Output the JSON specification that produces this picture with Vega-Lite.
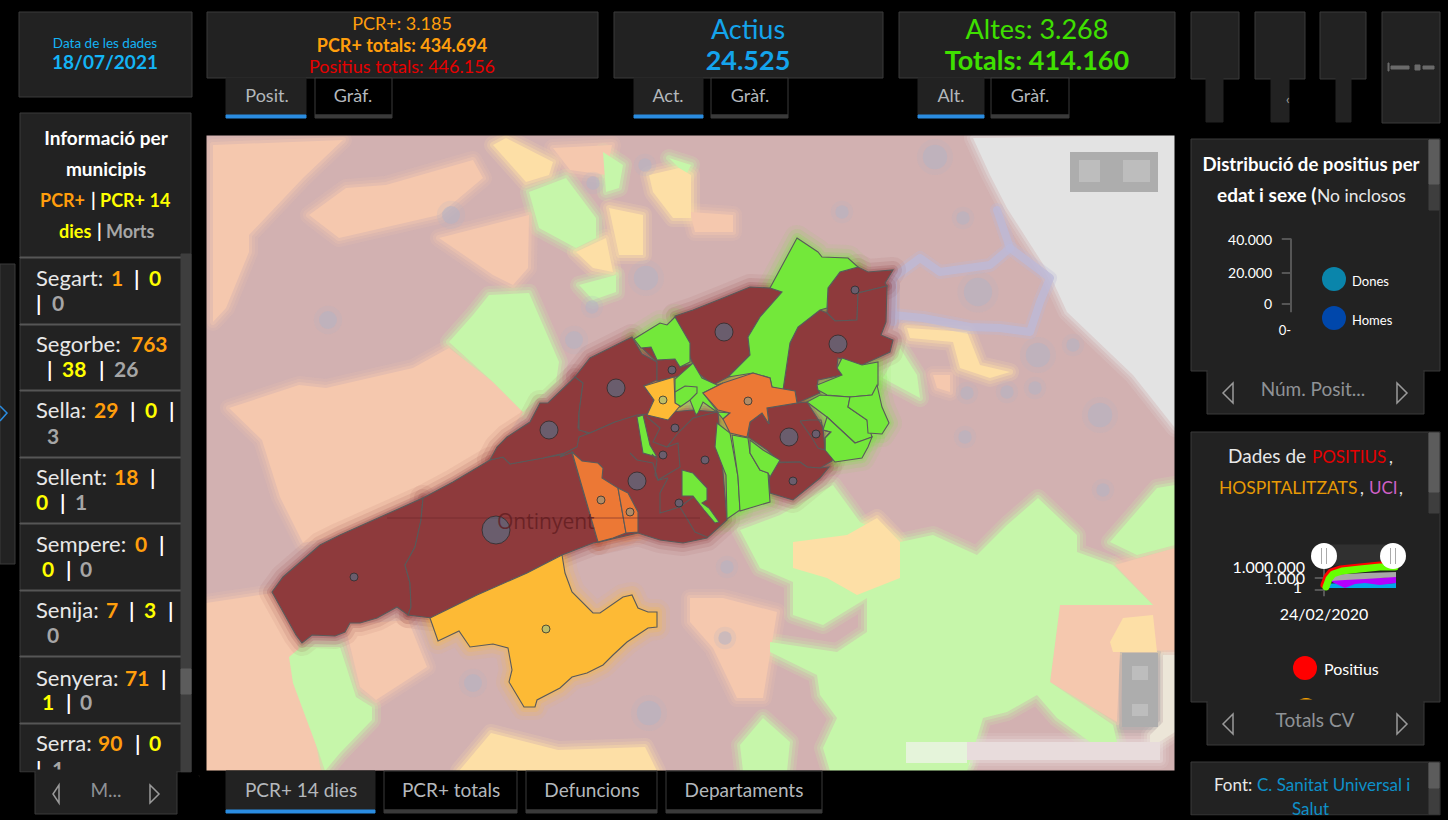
{"$schema":"https://vega.github.io/schema/vega-lite/v6.json","width":1448,"height":820,"autosize":"none","padding":0,"background":"#000000","config":{"view":{"stroke":null}},
"datasets":{
"base":[{"c":"mapa","geo":{"type":"Polygon","coordinates":[[[206,135],[1175,135],[1175,771],[206,771],[206,135]]]}}],
"fons":[
{"c":"pessec","geo":{"type":"Polygon","coordinates":[[[213,145],[343,140],[303,178],[249,235],[249,252],[226,308],[213,322],[213,145]]]}},
{"c":"pessec","geo":{"type":"Polygon","coordinates":[[[309,215],[346,188],[386,185],[473,160],[483,178],[439,215],[339,238],[309,215]]]}},
{"c":"pessec","geo":{"type":"Polygon","coordinates":[[[439,238],[529,215],[528,268],[513,285],[493,275],[439,238]]]}},
{"c":"pessec","geo":{"type":"Polygon","coordinates":[[[229,408],[299,385],[326,388],[413,368],[449,348],[493,382],[523,412],[490,460],[340,535],[303,543],[280,497],[262,440],[229,408]]]}},
{"c":"pessec","geo":{"type":"Polygon","coordinates":[[[206,603],[273,593],[297,640],[321,771],[206,771],[206,603]]]}},
{"c":"pessec","geo":{"type":"Polygon","coordinates":[[[345,625],[408,620],[427,667],[376,700],[360,687],[345,625]]]}},
{"c":"pessec","geo":{"type":"Polygon","coordinates":[[[690,598],[723,598],[777,612],[763,698],[737,698],[713,648],[690,622],[690,598]]]}},
{"c":"pessec","geo":{"type":"Polygon","coordinates":[[[1060,605],[1153,605],[1115,565],[1175,548],[1175,650],[1120,652],[1117,722],[1050,682],[1060,605]]]}},
{"c":"pessec","geo":{"type":"Polygon","coordinates":[[[690,212],[733,215],[733,232],[695,232],[690,212]]]}},
{"c":"pessec","geo":{"type":"Polygon","coordinates":[[[933,375],[950,375],[950,392],[937,388],[933,375]]]}},
{"c":"pessec","geo":{"type":"Polygon","coordinates":[[[553,148],[612,145],[606,175],[570,170],[553,148]]]}},
{"c":"verd","geo":{"type":"Polygon","coordinates":[[[449,342],[473,315],[489,295],[529,293],[559,362],[556,382],[523,412],[493,382],[449,342]]]}},
{"c":"verd","geo":{"type":"Polygon","coordinates":[[[529,192],[566,178],[596,218],[596,238],[576,248],[539,228],[529,192]]]}},
{"c":"verd","geo":{"type":"Polygon","coordinates":[[[603,152],[623,165],[619,188],[606,192],[603,152]]]}},
{"c":"verd","geo":{"type":"Polygon","coordinates":[[[579,285],[616,275],[616,292],[593,300],[579,285]]]}},
{"c":"verd","geo":{"type":"Polygon","coordinates":[[[669,158],[691,165],[686,175],[669,158]]]}},
{"c":"verd","geo":{"type":"Polygon","coordinates":[[[900,348],[917,375],[920,398],[890,382],[883,378],[900,348]]]}},
{"c":"verd","geo":{"type":"Polygon","coordinates":[[[289,657],[301,647],[340,647],[356,697],[372,707],[372,720],[340,753],[325,771],[319,753],[293,683],[289,657]]]}},
{"c":"verd","geo":{"type":"Polygon","coordinates":[[[740,530],[780,515],[833,485],[860,522],[900,542],[933,535],[977,555],[1007,525],[1038,498],[1077,535],[1077,552],[1113,565],[1153,605],[1060,605],[1050,682],[1113,725],[1117,742],[1090,742],[1057,718],[1037,695],[1007,712],[983,718],[967,771],[830,771],[823,748],[837,718],[820,695],[817,675],[770,652],[770,642],[790,645],[837,652],[867,632],[867,598],[823,625],[793,615],[793,582],[760,568],[740,530]]]}},
{"c":"verd","geo":{"type":"Polygon","coordinates":[[[740,745],[763,718],[790,742],[787,771],[743,771],[740,745]]]}},
{"c":"verd","geo":{"type":"Polygon","coordinates":[[[1110,542],[1157,488],[1175,485],[1175,545],[1137,555],[1110,542]]]}},
{"c":"clar","geo":{"type":"Polygon","coordinates":[[[493,145],[506,138],[553,162],[549,175],[526,182],[493,145]]]}},
{"c":"clar","geo":{"type":"Polygon","coordinates":[[[609,208],[643,215],[643,255],[619,255],[609,208]]]}},
{"c":"clar","geo":{"type":"Polygon","coordinates":[[[576,252],[606,238],[613,272],[593,268],[576,252]]]}},
{"c":"clar","geo":{"type":"Polygon","coordinates":[[[649,175],[679,168],[691,175],[691,218],[673,218],[653,192],[649,175]]]}},
{"c":"clar","geo":{"type":"Polygon","coordinates":[[[907,328],[967,332],[980,365],[1010,372],[990,378],[960,368],[953,342],[910,338],[907,328]]]}},
{"c":"clar","geo":{"type":"Polygon","coordinates":[[[793,542],[847,535],[877,518],[900,542],[900,578],[857,595],[827,578],[793,568],[793,542]]]}},
{"c":"clar","geo":{"type":"Polygon","coordinates":[[[459,771],[491,733],[558,750],[645,747],[657,771],[459,771]]]}},
{"c":"clar","geo":{"type":"Polygon","coordinates":[[[1110,642],[1123,618],[1153,615],[1157,652],[1113,652],[1110,642]]]}},
{"c":"costa","geo":{"type":"Polygon","coordinates":[[[973,138],[1175,135],[1175,428],[1133,375],[1067,312],[1050,275],[1007,208],[990,175],[973,138]]]}},
{"c":"boto","geo":{"type":"Polygon","coordinates":[[[1070,152],[1158,152],[1158,192],[1070,192],[1070,152]]]}},
{"c":"boto","geo":{"type":"Polygon","coordinates":[[[1122,653],[1158,653],[1158,727],[1122,727],[1122,653]]]}},
{"c":"boto2","geo":{"type":"Polygon","coordinates":[[[1079,160],[1100,160],[1100,182],[1079,182],[1079,160]]]}},
{"c":"boto2","geo":{"type":"Polygon","coordinates":[[[1123,160],[1150,160],[1150,182],[1123,182],[1123,160]]]}},
{"c":"boto2","geo":{"type":"Polygon","coordinates":[[[1132,666],[1148,666],[1148,680],[1132,680],[1132,666]]]}},
{"c":"boto2","geo":{"type":"Polygon","coordinates":[[[1132,704],[1148,704],[1148,716],[1132,716],[1132,704]]]}},
{"c":"beix","geo":{"type":"Polygon","coordinates":[[[1163,655],[1175,655],[1175,732],[1150,748],[1150,735],[1163,722],[1163,655]]]}},
{"c":"atr1","geo":{"type":"Polygon","coordinates":[[[906,742],[967,742],[967,763],[906,763],[906,742]]]}},
{"c":"atr2","geo":{"type":"Polygon","coordinates":[[[967,742],[1160,742],[1160,760],[967,760],[967,742]]]}}
],
"riu":[
{"geo":{"type":"LineString","coordinates":[[893,322],[893,278],[920,258],[940,272],[990,265],[1010,248],[997,210]]}},
{"geo":{"type":"LineString","coordinates":[[1010,248],[1050,278],[1040,302],[1030,332],[1000,328],[970,327],[923,318],[893,315]]}}
],
"cercles":[
{"x":328,"y":320,"m":"m"},{"x":451,"y":215,"m":"m"},{"x":574,"y":340,"m":"m"},{"x":646,"y":278,"m":"g"},{"x":935,"y":157,"m":"g"},{"x":842,"y":212,"m":"p"},{"x":963,"y":218,"m":"p"},{"x":978,"y":292,"m":"gg"},{"x":1038,"y":355,"m":"g"},{"x":1100,"y":415,"m":"g"},{"x":965,"y":437,"m":"p"},{"x":967,"y":393,"m":"p"},{"x":1007,"y":392,"m":"p"},{"x":1035,"y":388,"m":"p"},{"x":1073,"y":345,"m":"p"},{"x":1103,"y":490,"m":"p"},{"x":727,"y":567,"m":"p"},{"x":725,"y":638,"m":"p"},{"x":473,"y":683,"m":"m"},{"x":649,"y":713,"m":"g"},{"x":592,"y":307,"m":"p"},{"x":593,"y":183,"m":"p"},{"x":645,"y":165,"m":"p"}
],
"muni":[
{"c":"vermell","geo":{"type":"Polygon","coordinates":[[[272,592],[283,577],[320,545],[340,535],[387,514],[423,498],[421,520],[415,547],[405,565],[410,583],[411,607],[408,615],[397,607],[377,618],[360,623],[350,623],[345,632],[335,636],[312,635],[302,643],[296,635],[272,592]]]}},
{"c":"vermell","geo":{"type":"Polygon","coordinates":[[[423,498],[453,482],[490,460],[503,457],[510,464],[543,458],[572,453],[598,542],[593,543],[562,555],[527,573],[477,595],[432,618],[408,615],[411,607],[410,583],[405,565],[415,547],[421,520],[423,498]]]}},
{"c":"vermell","geo":{"type":"Polygon","coordinates":[[[490,460],[497,447],[507,437],[530,422],[540,403],[548,403],[575,377],[583,383],[579,413],[578,428],[590,435],[588,443],[577,447],[565,453],[543,458],[510,464],[503,457],[490,460]]]}},
{"c":"vermell","geo":{"type":"Polygon","coordinates":[[[575,377],[590,358],[632,337],[642,354],[657,362],[657,380],[644,386],[654,400],[648,415],[636,417],[615,422],[590,433],[579,430],[579,413],[583,383],[575,377]]]}},
{"c":"vermell","geo":{"type":"Polygon","coordinates":[[[579,437],[590,433],[615,422],[637,415],[693,410],[718,412],[727,520],[707,538],[683,543],[660,540],[638,533],[599,542],[573,452],[560,457],[565,453],[577,447],[579,437]]]}},
{"c":"vermell","geo":{"type":"Polygon","coordinates":[[[675,316],[693,310],[723,298],[750,287],[770,288],[782,292],[760,317],[748,337],[750,355],[728,377],[713,385],[698,373],[692,362],[680,330],[675,316]]]}},
{"c":"vermell","geo":{"type":"Polygon","coordinates":[[[642,348],[651,347],[657,360],[675,359],[680,367],[692,364],[693,372],[675,377],[657,381],[657,362],[642,348]]]}},
{"c":"vermell","geo":{"type":"Polygon","coordinates":[[[748,437],[750,422],[762,413],[769,424],[767,408],[797,403],[807,402],[823,427],[825,450],[834,454],[832,461],[820,468],[807,467],[800,462],[780,462],[767,450],[748,437]]]}},
{"c":"vermell","geo":{"type":"Polygon","coordinates":[[[773,463],[800,462],[807,467],[820,468],[829,467],[820,478],[793,500],[770,493],[769,475],[773,463]]]}},
{"c":"vermell","geo":{"type":"Polygon","coordinates":[[[828,288],[840,272],[858,267],[868,272],[893,270],[885,283],[887,286],[858,293],[857,320],[835,321],[827,313],[828,288]]]}},
{"c":"vermell","geo":{"type":"Polygon","coordinates":[[[783,390],[790,343],[798,327],[820,310],[827,313],[835,321],[857,320],[858,293],[887,286],[886,322],[881,335],[893,340],[890,352],[862,365],[838,358],[837,367],[842,375],[818,380],[817,388],[820,393],[797,403],[795,391],[783,390]]]}},
{"c":"verd","geo":{"type":"Polygon","coordinates":[[[637,417],[643,415],[650,445],[657,457],[643,453],[637,417]]]}},
{"c":"verd","geo":{"type":"Polygon","coordinates":[[[682,470],[693,473],[707,488],[707,500],[702,503],[709,508],[719,522],[715,523],[704,510],[693,496],[682,496],[682,470]]]}},
{"c":"verd","geo":{"type":"Polygon","coordinates":[[[634,339],[660,323],[667,325],[675,317],[690,343],[690,362],[680,367],[675,359],[657,360],[651,347],[641,348],[634,339]]]}},
{"c":"verd","geo":{"type":"Polygon","coordinates":[[[797,238],[818,252],[822,257],[848,258],[858,267],[840,272],[828,288],[827,308],[820,310],[798,327],[790,343],[783,390],[772,387],[770,378],[753,373],[728,377],[750,355],[748,337],[760,317],[782,292],[770,288],[797,238]]]}},
{"c":"verd","geo":{"type":"Polygon","coordinates":[[[675,403],[675,379],[693,363],[702,378],[717,385],[723,383],[703,393],[718,412],[730,413],[723,419],[717,412],[703,402],[698,413],[696,415],[690,400],[680,407],[675,403]]]}},
{"c":"verd","geo":{"type":"Polygon","coordinates":[[[717,423],[730,433],[738,477],[740,510],[727,519],[726,475],[715,447],[717,423]]]}},
{"c":"verd","geo":{"type":"Polygon","coordinates":[[[732,435],[748,438],[750,453],[760,470],[768,473],[770,502],[740,511],[738,477],[732,435]]]}},
{"c":"verd","geo":{"type":"Polygon","coordinates":[[[750,440],[763,450],[780,460],[770,477],[768,473],[760,470],[750,453],[750,440]]]}},
{"c":"verd","geo":{"type":"Polygon","coordinates":[[[842,358],[862,365],[878,362],[878,385],[872,395],[850,397],[827,395],[818,390],[817,385],[842,375],[837,368],[842,358]]]}},
{"c":"verd","geo":{"type":"Polygon","coordinates":[[[820,395],[850,397],[848,407],[867,420],[872,437],[865,440],[855,443],[827,417],[807,402],[820,395]]]}},
{"c":"verd","geo":{"type":"Polygon","coordinates":[[[850,397],[872,395],[877,385],[882,407],[889,423],[882,434],[868,433],[867,420],[848,407],[850,397]]]}},
{"c":"verd","geo":{"type":"Polygon","coordinates":[[[827,417],[855,443],[872,437],[868,447],[862,458],[835,462],[825,450],[825,438],[831,432],[823,430],[827,417]]]}},
{"c":"taronja","geo":{"type":"Polygon","coordinates":[[[572,452],[582,461],[598,463],[603,468],[602,478],[618,488],[626,533],[613,538],[598,542],[572,452]]]}},
{"c":"taronja","geo":{"type":"Polygon","coordinates":[[[618,488],[628,493],[638,512],[638,532],[626,533],[622,510],[618,488]]]}},
{"c":"taronja","geo":{"type":"Polygon","coordinates":[[[703,393],[723,383],[753,373],[770,378],[772,387],[795,391],[797,403],[767,408],[769,424],[762,413],[750,422],[747,437],[730,433],[723,419],[730,413],[718,410],[703,393]]]}},
{"c":"groc","geo":{"type":"Polygon","coordinates":[[[644,386],[674,377],[675,403],[680,406],[668,420],[647,415],[654,400],[644,386]]]}},
{"c":"groc","geo":{"type":"Polygon","coordinates":[[[430,618],[477,595],[527,573],[562,555],[565,573],[572,592],[593,613],[600,613],[623,597],[632,595],[638,608],[648,612],[657,612],[657,627],[648,628],[627,642],[613,655],[603,665],[587,673],[572,677],[560,688],[537,700],[535,707],[524,707],[509,682],[512,670],[508,648],[493,644],[470,647],[459,631],[438,641],[430,618]]]}}
],
"limits":[
{"geo":{"type":"LineString","coordinates":[[647,417],[660,428],[653,442],[667,447],[678,433],[693,418],[717,412]]}},
{"geo":{"type":"LineString","coordinates":[[667,447],[678,443],[680,467],[658,480],[655,475],[657,460],[652,454]]}},
{"geo":{"type":"LineString","coordinates":[[668,478],[660,493],[660,513],[680,507],[695,532],[707,537]]}},
{"geo":{"type":"LineString","coordinates":[[630,453],[637,460],[653,463],[658,480],[668,478]]}},
{"geo":{"type":"LineString","coordinates":[[675,392],[685,386],[697,387],[697,393],[690,400]]}},
{"geo":{"type":"LineString","coordinates":[[800,421],[810,420],[821,420],[823,430],[830,432],[825,438],[825,450],[818,448],[812,438],[800,421]]}},
{"geo":{"type":"LineString","coordinates":[[680,507],[693,497]]}}
],
"corba":[{"geo":{"type":"LineString","coordinates":[[387,518],[700,518]]}}],
"punts":[
{"x":724,"y":332,"m":"mitja"},{"x":838,"y":344,"m":"mitja"},{"x":616,"y":388,"m":"mitja"},{"x":789,"y":437,"m":"mitja"},{"x":637,"y":481,"m":"mitja"},{"x":549,"y":430,"m":"mitja"},{"x":496,"y":530,"m":"gran"},
{"x":855,"y":290,"m":"petit"},{"x":672,"y":370,"m":"petit"},{"x":748,"y":401,"m":"petit"},{"x":663,"y":400,"m":"petit"},{"x":675,"y":428,"m":"petit"},{"x":663,"y":455,"m":"petit"},{"x":705,"y":460,"m":"petit"},{"x":816,"y":434,"m":"petit"},{"x":793,"y":481,"m":"petit"},{"x":679,"y":503,"m":"petit"},{"x":601,"y":500,"m":"petit"},{"x":630,"y":512,"m":"petit"},{"x":354,"y":577,"m":"petit"},{"x":546,"y":629,"m":"petit"}
],
"marcs":[
{"k":"mascara","x":190,"x2":206,"y":125,"y2":775},{"k":"mascara","x":200,"x2":1185,"y":118,"y2":135},{"k":"mascara","x":200,"x2":1185,"y":771,"y2":785},{"k":"mascara","x":1175,"x2":1191,"y":125,"y2":775},
{"k":"panell","x":19,"x2":192,"y":12,"y2":97},{"k":"panell","x":207,"x2":598,"y":12,"y2":78},{"k":"panell","x":614,"x2":883,"y":12,"y2":78},{"k":"panell","x":899,"x2":1175,"y":12,"y2":78},
{"k":"panell","x":1191,"x2":1239,"y":12,"y2":79},{"k":"panell","x":1255,"x2":1305,"y":12,"y2":79},{"k":"panell","x":1320,"x2":1366,"y":12,"y2":79},{"k":"panell","x":1382,"x2":1440,"y":12,"y2":123},
{"k":"actiu","x":1206,"x2":1223,"y":78,"y2":122},{"k":"actiu","x":1271,"x2":1289,"y":78,"y2":122},{"k":"actiu","x":1336,"x2":1351,"y":78,"y2":122},
{"k":"panell","x":20,"x2":191,"y":113,"y2":772},{"k":"panell","x":0,"x2":15,"y":264,"y2":564},
{"k":"panell","x":1191,"x2":1440,"y":139,"y2":371},{"k":"panell","x":1191,"x2":1440,"y":432,"y2":702},{"k":"panell","x":1191,"x2":1440,"y":762,"y2":815},
{"k":"actiu","x":226,"x2":306,"y":78,"y2":115},{"k":"actiu","x":634,"x2":703,"y":78,"y2":115},{"k":"actiu","x":918,"x2":984,"y":78,"y2":115},{"k":"actiu","x":226,"x2":375,"y":771,"y2":810},
{"k":"pestanya","x":315,"x2":392,"y":78,"y2":115},{"k":"pestanya","x":711,"x2":788,"y":78,"y2":115},{"k":"pestanya","x":991,"x2":1069,"y":78,"y2":115},{"k":"pestanya","x":384,"x2":517,"y":771,"y2":810},{"k":"pestanya","x":526,"x2":657,"y":771,"y2":810},{"k":"pestanya","x":666,"x2":822,"y":771,"y2":810},
{"k":"blau","x":226,"x2":306,"y":115,"y2":118},{"k":"blau","x":634,"x2":703,"y":115,"y2":118},{"k":"blau","x":918,"x2":984,"y":115,"y2":118},{"k":"blau","x":226,"x2":375,"y":810,"y2":813},
{"k":"gris","x":315,"x2":392,"y":115,"y2":118},{"k":"gris","x":711,"x2":788,"y":115,"y2":118},{"k":"gris","x":991,"x2":1069,"y":115,"y2":118},{"k":"gris","x":384,"x2":517,"y":810,"y2":813},{"k":"gris","x":526,"x2":657,"y":810,"y2":813},{"k":"gris","x":666,"x2":822,"y":810,"y2":813},
{"k":"sep","x":20,"x2":181,"y":257,"y2":258},{"k":"sep","x":20,"x2":181,"y":324,"y2":325},{"k":"sep","x":20,"x2":181,"y":390,"y2":391},{"k":"sep","x":20,"x2":181,"y":457,"y2":458},{"k":"sep","x":20,"x2":181,"y":523,"y2":524},{"k":"sep","x":20,"x2":181,"y":590,"y2":591},{"k":"sep","x":20,"x2":181,"y":656,"y2":657},{"k":"sep","x":20,"x2":181,"y":723,"y2":724},
{"k":"barra","x":181,"x2":191,"y":254,"y2":772},{"k":"barra","x":1429,"x2":1439,"y":140,"y2":210},{"k":"barra","x":1429,"x2":1439,"y":433,"y2":513},{"k":"barra","x":1429,"x2":1439,"y":763,"y2":814},
{"k":"polze","x":181,"x2":191,"y":669,"y2":694},{"k":"polze","x":1429,"x2":1439,"y":140,"y2":184},{"k":"polze","x":1429,"x2":1439,"y":433,"y2":492},{"k":"polze","x":1429,"x2":1439,"y":763,"y2":788},
{"k":"logo","x":1388,"x2":1389,"y":63,"y2":71},{"k":"logo","x":1391,"x2":1409,"y":66,"y2":69},{"k":"logo","x":1415,"x2":1420,"y":65,"y2":70},{"k":"logo","x":1423,"x2":1434,"y":66,"y2":69},
{"k":"sep","x":1290.5,"x2":1291.5,"y":239,"y2":312},{"k":"sep","x":1282,"x2":1291,"y":238.5,"y2":239.5},{"k":"sep","x":1282,"x2":1291,"y":272.5,"y2":273.5},{"k":"sep","x":1282,"x2":1291,"y":303.5,"y2":304.5},
{"k":"lliscador","x":1323,"x2":1394,"y":545,"y2":565},{"k":"sep","x":1323.5,"x2":1324.5,"y":565,"y2":596},{"k":"sep","x":1315,"x2":1324,"y":577.5,"y2":578.5},{"k":"sep","x":1315,"x2":1324,"y":589.5,"y2":590.5}
],
"serie":[
{"s":"actius","x":1324,"y":584,"y2":588},{"s":"actius","x":1340,"y":583,"y2":588},{"s":"actius","x":1360,"y":582,"y2":588},{"s":"actius","x":1380,"y":584,"y2":588},{"s":"actius","x":1396,"y":583,"y2":588},
{"s":"uci","x":1332,"y":580,"y2":582},{"s":"uci","x":1345,"y":578,"y2":588},{"s":"uci","x":1355,"y":579,"y2":584},{"s":"uci","x":1365,"y":578,"y2":583},{"s":"uci","x":1380,"y":578,"y2":585},{"s":"uci","x":1396,"y":576,"y2":583},
{"s":"hosp","x":1330,"y":575,"y2":581},{"s":"hosp","x":1345,"y":574,"y2":580},{"s":"hosp","x":1365,"y":573,"y2":579},{"s":"hosp","x":1396,"y":572,"y2":577}
],
"linia":[
{"s":"pos","x":1324,"y":585},{"s":"pos","x":1327,"y":577},{"s":"pos","x":1331,"y":572},{"s":"pos","x":1340,"y":569},{"s":"pos","x":1360,"y":567},{"s":"pos","x":1380,"y":565},{"s":"pos","x":1396,"y":564},
{"s":"altes","x":1326,"y":587},{"s":"altes","x":1329,"y":579},{"s":"altes","x":1333,"y":574},{"s":"altes","x":1342,"y":571},{"s":"altes","x":1360,"y":569},{"s":"altes","x":1380,"y":567},{"s":"altes","x":1395,"y":567}
],
"rodones":[
{"x":1334,"y":279,"k":"dones","m":"r12"},{"x":1334,"y":318,"k":"homes","m":"r12"},{"x":1305,"y":668,"k":"pos","m":"r12"},{"x":1306,"y":710,"k":"hosp","m":"r12"},{"x":1324,"y":556,"k":"maneta","m":"r13"},{"x":1393,"y":556,"k":"maneta","m":"r13"}
],
"barretes":[{"x":1321,"x2":1322,"y":548,"y2":564},{"x":1326,"x2":1327,"y":548,"y2":564},{"x":1390,"x2":1391,"y":548,"y2":564},{"x":1395,"x2":1396,"y":548,"y2":564}],
"textos":[
{"t":"Data de les dades","x":105,"y":48,"c":"cian","m":"t13h","al":"c","w":"n"},
{"t":"18/07/2021","x":105,"y":69,"c":"cian","m":"t19","al":"c","w":"b"},
{"t":"PCR+: 3.185","x":402,"y":30,"c":"taronja","m":"t18","al":"c","w":"n"},
{"t":"PCR+ totals: 434.694","x":402,"y":52,"c":"taronja","m":"t18","al":"c","w":"b"},
{"t":"Positius totals: 446.156","x":402,"y":73,"c":"verm","m":"t18","al":"c","w":"n"},
{"t":"Actius","x":748,"y":39,"c":"actius","m":"t27","al":"c","w":"n"},
{"t":"24.525","x":748,"y":70,"c":"actius","m":"t27","al":"c","w":"b"},
{"t":"Altes: 3.268","x":1037,"y":39,"c":"verd","m":"t27","al":"c","w":"n"},
{"t":"Totals: 414.160","x":1037,"y":70,"c":"verd","m":"t27","al":"c","w":"b"},
{"t":"Posit.","x":267,"y":102,"c":"etq","m":"t18","al":"c","w":"n"},
{"t":"Gràf.","x":353,"y":102,"c":"etq","m":"t18","al":"c","w":"n"},
{"t":"Act.","x":668,"y":102,"c":"etq","m":"t18","al":"c","w":"n"},
{"t":"Gràf.","x":750,"y":102,"c":"etq","m":"t18","al":"c","w":"n"},
{"t":"Alt.","x":951,"y":102,"c":"etq","m":"t18","al":"c","w":"n"},
{"t":"Gràf.","x":1030,"y":102,"c":"etq","m":"t18","al":"c","w":"n"},
{"t":"‹","x":1286,"y":104,"c":"gris","m":"t13","al":"l","w":"n"},
{"t":"PCR+ 14 dies","x":301,"y":797,"c":"etq","m":"t19","al":"c","w":"n"},
{"t":"PCR+ totals","x":451,"y":797,"c":"etq","m":"t19","al":"c","w":"n"},
{"t":"Defuncions","x":592,"y":797,"c":"etq","m":"t19","al":"c","w":"n"},
{"t":"Departaments","x":744,"y":797,"c":"etq","m":"t19","al":"c","w":"n"},
{"t":"Informació per","x":106,"y":145,"c":"blanc","m":"t19","al":"c","w":"b"},
{"t":"municipis","x":106,"y":176,"c":"blanc","m":"t19","al":"c","w":"b"},
{"t":"PCR+","x":40,"y":207,"c":"taronja","m":"t18","al":"l","w":"b"},
{"t":"|","x":91,"y":207,"c":"blanc","m":"t18","al":"l","w":"b"},
{"t":"PCR+ 14","x":100,"y":207,"c":"groc","m":"t18","al":"l","w":"b"},
{"t":"dies","x":59,"y":238,"c":"groc","m":"t18","al":"l","w":"b"},
{"t":"|","x":97,"y":238,"c":"blanc","m":"t18","al":"l","w":"b"},
{"t":"Morts","x":106,"y":238,"c":"gris","m":"t18","al":"l","w":"b"},
{"t":"Segart:","x":36,"y":286,"c":"text","m":"t22","al":"l","w":"n"},{"t":"1","x":111,"y":286,"c":"taronja","m":"t21","al":"l","w":"b"},{"t":"|","x":134,"y":286,"c":"blanc","m":"t21","al":"l","w":"b"},{"t":"0","x":149,"y":286,"c":"groc","m":"t21","al":"l","w":"b"},{"t":"|","x":36,"y":311,"c":"blanc","m":"t21","al":"l","w":"b"},{"t":"0","x":52,"y":311,"c":"gris","m":"t21","al":"l","w":"b"},
{"t":"Segorbe:","x":36,"y":352,"c":"text","m":"t22","al":"l","w":"n"},{"t":"763","x":131,"y":352,"c":"taronja","m":"t21","al":"l","w":"b"},{"t":"|","x":47,"y":377,"c":"blanc","m":"t21","al":"l","w":"b"},{"t":"38","x":62,"y":377,"c":"groc","m":"t21","al":"l","w":"b"},{"t":"|","x":99,"y":377,"c":"blanc","m":"t21","al":"l","w":"b"},{"t":"26","x":114,"y":377,"c":"gris","m":"t21","al":"l","w":"b"},
{"t":"Sella:","x":36,"y":418,"c":"text","m":"t22","al":"l","w":"n"},{"t":"29","x":94,"y":418,"c":"taronja","m":"t21","al":"l","w":"b"},{"t":"|","x":130,"y":418,"c":"blanc","m":"t21","al":"l","w":"b"},{"t":"0","x":145,"y":418,"c":"groc","m":"t21","al":"l","w":"b"},{"t":"|","x":169,"y":418,"c":"blanc","m":"t21","al":"l","w":"b"},{"t":"3","x":47,"y":444,"c":"gris","m":"t21","al":"l","w":"b"},
{"t":"Sellent:","x":36,"y":485,"c":"text","m":"t22","al":"l","w":"n"},{"t":"18","x":114,"y":485,"c":"taronja","m":"t21","al":"l","w":"b"},{"t":"|","x":150,"y":485,"c":"blanc","m":"t21","al":"l","w":"b"},{"t":"0","x":36,"y":510,"c":"groc","m":"t21","al":"l","w":"b"},{"t":"|","x":60,"y":510,"c":"blanc","m":"t21","al":"l","w":"b"},{"t":"1","x":75,"y":510,"c":"gris","m":"t21","al":"l","w":"b"},
{"t":"Sempere:","x":36,"y":552,"c":"text","m":"t22","al":"l","w":"n"},{"t":"0","x":135,"y":552,"c":"taronja","m":"t21","al":"l","w":"b"},{"t":"|","x":159,"y":552,"c":"blanc","m":"t21","al":"l","w":"b"},{"t":"0","x":42,"y":577,"c":"groc","m":"t21","al":"l","w":"b"},{"t":"|","x":66,"y":577,"c":"blanc","m":"t21","al":"l","w":"b"},{"t":"0","x":80,"y":577,"c":"gris","m":"t21","al":"l","w":"b"},
{"t":"Senija:","x":36,"y":618,"c":"text","m":"t22","al":"l","w":"n"},{"t":"7","x":106,"y":618,"c":"taronja","m":"t21","al":"l","w":"b"},{"t":"|","x":129,"y":618,"c":"blanc","m":"t21","al":"l","w":"b"},{"t":"3","x":144,"y":618,"c":"groc","m":"t21","al":"l","w":"b"},{"t":"|","x":168,"y":618,"c":"blanc","m":"t21","al":"l","w":"b"},{"t":"0","x":47,"y":643,"c":"gris","m":"t21","al":"l","w":"b"},
{"t":"Senyera:","x":36,"y":686,"c":"text","m":"t22","al":"l","w":"n"},{"t":"71","x":125,"y":686,"c":"taronja","m":"t21","al":"l","w":"b"},{"t":"|","x":161,"y":686,"c":"blanc","m":"t21","al":"l","w":"b"},{"t":"1","x":42,"y":710,"c":"groc","m":"t21","al":"l","w":"b"},{"t":"|","x":66,"y":710,"c":"blanc","m":"t21","al":"l","w":"b"},{"t":"0","x":80,"y":710,"c":"gris","m":"t21","al":"l","w":"b"},
{"t":"Serra:","x":36,"y":751,"c":"text","m":"t22","al":"l","w":"n"},{"t":"90","x":98,"y":751,"c":"taronja","m":"t21","al":"l","w":"b"},{"t":"|","x":135,"y":751,"c":"blanc","m":"t21","al":"l","w":"b"},{"t":"0","x":149,"y":751,"c":"groc","m":"t21","al":"l","w":"b"},{"t":"|","x":36,"y":777,"c":"blanc","m":"t21","al":"l","w":"b"},{"t":"1","x":52,"y":777,"c":"gris","m":"t21","al":"l","w":"b"},
{"t":"Distribució de positius per","x":1311,"y":171,"c":"blanc","m":"t18h","al":"c","w":"b"},
{"t":"edat i sexe (","x":1217,"y":202,"c":"blanc","m":"t19","al":"l","w":"b"},
{"t":"No inclosos","x":1317,"y":202,"c":"text","m":"t17h","al":"l","w":"n"},
{"t":"40.000","x":1272,"y":245,"c":"blanc","m":"t14","al":"r","w":"n"},
{"t":"20.000","x":1272,"y":278,"c":"blanc","m":"t14","al":"r","w":"n"},
{"t":"0","x":1272,"y":309,"c":"blanc","m":"t14","al":"r","w":"n"},
{"t":"0-","x":1291,"y":335,"c":"blanc","m":"t13","al":"r","w":"n"},
{"t":"Dones","x":1352,"y":286,"c":"blanc","m":"t13","al":"l","w":"n"},
{"t":"Homes","x":1352,"y":325,"c":"blanc","m":"t13","al":"l","w":"n"},
{"t":"Dades de","x":1228,"y":463,"c":"text","m":"t19","al":"l","w":"n"},
{"t":"POSITIUS","x":1312,"y":463,"c":"verm","m":"t17","al":"l","w":"n"},
{"t":",","x":1389,"y":463,"c":"text","m":"t17","al":"l","w":"n"},
{"t":"HOSPITALITZATS","x":1219,"y":494,"c":"hosp","m":"t17h","al":"l","w":"n"},
{"t":",","x":1360,"y":494,"c":"text","m":"t17","al":"l","w":"n"},
{"t":"UCI","x":1369,"y":494,"c":"uci","m":"t17","al":"l","w":"n"},
{"t":",","x":1399,"y":494,"c":"text","m":"t17","al":"l","w":"n"},
{"t":"1.000.000","x":1305,"y":573,"c":"blanc","m":"t16","al":"r","w":"n"},
{"t":"1.000","x":1305,"y":584,"c":"blanc","m":"t16","al":"r","w":"n"},
{"t":"1","x":1302,"y":593,"c":"blanc","m":"t16","al":"r","w":"n"},
{"t":"24/02/2020","x":1324,"y":620,"c":"blanc","m":"t16","al":"c","w":"n"},
{"t":"Positius","x":1324,"y":675,"c":"blanc","m":"t16","al":"l","w":"n"},
{"t":"Font:","x":1214,"y":791,"c":"text","m":"t17","al":"l","w":"n"},
{"t":"C. Sanitat Universal i","x":1257,"y":791,"c":"font","m":"t17","al":"l","w":"n"},
{"t":"Salut","x":1292,"y":815,"c":"font","m":"t17","al":"l","w":"n"}
],
"tapes":[
{"k":"mascara","x":15,"x2":192,"y":773,"y2":820},{"k":"mascara","x":1188,"x2":1443,"y":816,"y2":820},
{"k":"panell","x":35,"x2":177,"y":772,"y2":814},{"k":"panell","x":1207,"x2":1424,"y":371,"y2":414},{"k":"panell","x":1207,"x2":1424,"y":702,"y2":745},
{"k":"actiu","x":36,"x2":176,"y":770,"y2":774},{"k":"actiu","x":1208,"x2":1423,"y":369,"y2":373},{"k":"actiu","x":1208,"x2":1423,"y":700,"y2":704}
],
"nav":[
{"t":"M...","x":106,"y":797},{"t":"Núm. Posit...","x":1313,"y":396},{"t":"Totals CV","x":1315,"y":727}
],
"fletxes":[
{"geo":{"type":"Polygon","coordinates":[[[59,785],[53,794],[59,803],[59,785]]]}},
{"geo":{"type":"Polygon","coordinates":[[[150,785],[159,794],[150,803],[150,785]]]}},
{"geo":{"type":"Polygon","coordinates":[[[1233,383],[1223,393],[1233,403],[1233,383]]]}},
{"geo":{"type":"Polygon","coordinates":[[[1397,383],[1407,393],[1397,403],[1397,383]]]}},
{"geo":{"type":"Polygon","coordinates":[[[1233,714],[1223,724],[1233,734],[1233,714]]]}},
{"geo":{"type":"Polygon","coordinates":[[[1397,714],[1407,724],[1397,734],[1397,714]]]}}
],
"xevro":[{"geo":{"type":"LineString","coordinates":[[0,406],[7,413],[0,421]]}}]
},
"resolve":{"scale":{"fill":"independent","stroke":"independent","size":"independent","color":"independent"}},
"layer":[
{"data":{"name":"base"},"mark":{"type":"geoshape","fill":"#d2b1b1","stroke":null},"projection":{"type":"identity","scale":1,"translate":[0,0]},"encoding":{"shape":{"field":"geo","type":"geojson"}}},
{"data":{"name":"fons"},"projection":{"type":"identity","scale":1,"translate":[0,0]},"encoding":{"shape":{"field":"geo","type":"geojson"}},"layer":[
{"mark":{"type":"geoshape","filled":false,"strokeWidth":18,"strokeOpacity":0.16,"strokeJoin":"round"},"encoding":{"stroke":{"field":"c","type":"nominal","legend":null,"scale":{"domain":["pessec","verd","clar","costa","boto","boto2","beix","atr1","atr2"],"range":["#f5c8ae","#c6f6aa","#fddfa6","#e3e3e3","#adadad","#bdbdbd","#ece6d8","#e5f4da","#e8dcdc"]}}}},
{"mark":{"type":"geoshape","filled":false,"strokeWidth":12,"strokeOpacity":0.22,"strokeJoin":"round"},"encoding":{"stroke":{"field":"c","type":"nominal","legend":null,"scale":{"domain":["pessec","verd","clar","costa","boto","boto2","beix","atr1","atr2"],"range":["#f5c8ae","#c6f6aa","#fddfa6","#e3e3e3","#adadad","#bdbdbd","#ece6d8","#e5f4da","#e8dcdc"]}}}},
{"mark":{"type":"geoshape","filled":false,"strokeWidth":6,"strokeOpacity":0.4,"strokeJoin":"round"},"encoding":{"stroke":{"field":"c","type":"nominal","legend":null,"scale":{"domain":["pessec","verd","clar","costa","boto","boto2","beix","atr1","atr2"],"range":["#f5c8ae","#c6f6aa","#fddfa6","#e3e3e3","#adadad","#bdbdbd","#ece6d8","#e5f4da","#e8dcdc"]}}}},
{"mark":{"type":"geoshape","stroke":null},"encoding":{"fill":{"field":"c","type":"nominal","legend":null,"scale":{"domain":["pessec","verd","clar","costa","boto","boto2","beix","atr1","atr2"],"range":["#f5c8ae","#c6f6aa","#fddfa6","#e3e3e3","#adadad","#bdbdbd","#ece6d8","#e5f4da","#e8dcdc"]}}}}
]},
{"data":{"name":"riu"},"projection":{"type":"identity","scale":1,"translate":[0,0]},"encoding":{"shape":{"field":"geo","type":"geojson"}},"layer":[
{"mark":{"type":"geoshape","filled":false,"stroke":"#bcb9d8","strokeWidth":14,"strokeOpacity":0.3,"strokeJoin":"round","strokeCap":"round"}},
{"mark":{"type":"geoshape","filled":false,"stroke":"#bcb9d8","strokeWidth":8,"strokeOpacity":0.75,"strokeJoin":"round","strokeCap":"round"}}
]},
{"data":{"name":"cercles"},"mark":{"type":"point","filled":true,"fill":"#b5b3c2","opacity":0.2,"stroke":null},"encoding":{"x":{"field":"x","type":"quantitative","axis":null,"scale":{"domain":[0,1448],"nice":false,"zero":false}},"y":{"field":"y","type":"quantitative","axis":null,"scale":{"domain":[820,0],"nice":false,"zero":false}},"size":{"field":"m","type":"ordinal","legend":null,"scale":{"type":"ordinal","domain":["p","m","g","gg"],"range":[500,800,1300,1700]}}}},
{"data":{"name":"cercles"},"mark":{"type":"point","filled":true,"fill":"#b5b3c2","opacity":0.55,"stroke":null},"encoding":{"x":{"field":"x","type":"quantitative","axis":null,"scale":{"domain":[0,1448],"nice":false,"zero":false}},"y":{"field":"y","type":"quantitative","axis":null,"scale":{"domain":[820,0],"nice":false,"zero":false}},"size":{"field":"m","type":"ordinal","legend":null,"scale":{"type":"ordinal","domain":["p","m","g","gg"],"range":[180,320,600,800]}}}},
{"data":{"name":"muni"},"projection":{"type":"identity","scale":1,"translate":[0,0]},"encoding":{"shape":{"field":"geo","type":"geojson"}},"layer":[
{"mark":{"type":"geoshape","filled":false,"strokeWidth":26,"strokeOpacity":0.07,"strokeJoin":"round"},"encoding":{"stroke":{"field":"c","type":"nominal","legend":null,"scale":{"domain":["vermell","verd","taronja","groc"],"range":["#8e3a3c","#73e83a","#ec7835","#fdba35"]}}}},
{"mark":{"type":"geoshape","filled":false,"strokeWidth":18,"strokeOpacity":0.12,"strokeJoin":"round"},"encoding":{"stroke":{"field":"c","type":"nominal","legend":null,"scale":{"domain":["vermell","verd","taronja","groc"],"range":["#8e3a3c","#73e83a","#ec7835","#fdba35"]}}}},
{"mark":{"type":"geoshape","filled":false,"strokeWidth":10,"strokeOpacity":0.18,"strokeJoin":"round"},"encoding":{"stroke":{"field":"c","type":"nominal","legend":null,"scale":{"domain":["vermell","verd","taronja","groc"],"range":["#8e3a3c","#73e83a","#ec7835","#fdba35"]}}}},
{"mark":{"type":"geoshape","filled":false,"strokeWidth":5,"strokeOpacity":0.22,"strokeJoin":"round"},"encoding":{"stroke":{"field":"c","type":"nominal","legend":null,"scale":{"domain":["vermell","verd","taronja","groc"],"range":["#8e3a3c","#73e83a","#ec7835","#fdba35"]}}}},
{"mark":{"type":"geoshape","stroke":"#5a5a5a","strokeWidth":1.1},"encoding":{"fill":{"field":"c","type":"nominal","legend":null,"scale":{"domain":["vermell","verd","taronja","groc"],"range":["#8e3a3c","#73e83a","#ec7835","#fdba35"]}}}}
]},
{"data":{"name":"limits"},"projection":{"type":"identity","scale":1,"translate":[0,0]},"mark":{"type":"geoshape","filled":false,"stroke":"#5a5a5a","strokeWidth":1.1},"encoding":{"shape":{"field":"geo","type":"geojson"}}},
{"data":{"name":"corba"},"projection":{"type":"identity","scale":1,"translate":[0,0]},"mark":{"type":"geoshape","filled":false,"stroke":"#6a2528","strokeWidth":1,"strokeOpacity":0.6},"encoding":{"shape":{"field":"geo","type":"geojson"}}},
{"data":{"name":"punts"},"mark":{"type":"point","filled":true,"fill":"#00c8ff","fillOpacity":0.25,"stroke":"#2a2a2a","strokeOpacity":0.75,"strokeWidth":1},"encoding":{"x":{"field":"x","type":"quantitative","axis":null,"scale":{"domain":[0,1448],"nice":false,"zero":false}},"y":{"field":"y","type":"quantitative","axis":null,"scale":{"domain":[820,0],"nice":false,"zero":false}},"size":{"field":"m","type":"ordinal","legend":null,"scale":{"type":"ordinal","domain":["petit","mitja","gran"],"range":[64,324,784]}}}},
{"data":{"values":[{"t":"Ontinyent","x":497,"y":529}]},"mark":{"type":"text","font":"Open Sans","fontSize":21,"align":"left","baseline":"alphabetic","fill":"#5e1a1e","fillOpacity":0.75},"encoding":{"text":{"field":"t"},"x":{"field":"x","type":"quantitative","axis":null,"scale":{"domain":[0,1448],"nice":false,"zero":false}},"y":{"field":"y","type":"quantitative","axis":null,"scale":{"domain":[820,0],"nice":false,"zero":false}}}},
{"data":{"name":"marcs"},"mark":{"type":"rect","strokeWidth":1},"encoding":{"x":{"field":"x","type":"quantitative","axis":null,"scale":{"domain":[0,1448],"nice":false,"zero":false}},"x2":{"field":"x2"},"y":{"field":"y","type":"quantitative","axis":null,"scale":{"domain":[820,0],"nice":false,"zero":false}},"y2":{"field":"y2"},"fill":{"field":"k","type":"nominal","legend":null,"scale":{"domain":["mascara","panell","actiu","pestanya","blau","gris","sep","barra","polze","logo","lliscador"],"range":["#000000","#222222","#222222","#000000","#2b8ce0","#3a3a3a","#565656","#3e3e3e","#5c5c5c","#6a6a6a","#303030"]}},"stroke":{"field":"k","type":"nominal","legend":null,"scale":{"domain":["mascara","panell","actiu","pestanya","blau","gris","sep","barra","polze","logo","lliscador"],"range":["#000000","#3b3b3b","#222222","#3a3a3a","#2b8ce0","#3a3a3a","#565656","#3e3e3e","#5c5c5c","#6a6a6a","#303030"]}}}},
{"data":{"name":"serie"},"mark":{"type":"area"},"encoding":{"x":{"field":"x","type":"quantitative","axis":null,"scale":{"domain":[0,1448],"nice":false,"zero":false}},"y":{"field":"y","type":"quantitative","axis":null,"scale":{"domain":[820,0],"nice":false,"zero":false}},"y2":{"field":"y2"},"fill":{"field":"s","type":"nominal","legend":null,"scale":{"domain":["actius","uci","hosp"],"range":["#00a8e8","#b400ff","#a8a8a8"]}}}},
{"data":{"name":"linia"},"mark":{"type":"line","strokeCap":"round","strokeJoin":"round","strokeWidth":7},"encoding":{"x":{"field":"x","type":"quantitative","axis":null,"scale":{"domain":[0,1448],"nice":false,"zero":false}},"y":{"field":"y","type":"quantitative","axis":null,"scale":{"domain":[820,0],"nice":false,"zero":false}},"stroke":{"field":"s","type":"nominal","legend":null,"scale":{"domain":["pos","altes"],"range":["#ff0000","#66ff00"]}}}},
{"data":{"name":"rodones"},"mark":{"type":"point","filled":true,"opacity":1,"stroke":null},"encoding":{"x":{"field":"x","type":"quantitative","axis":null,"scale":{"domain":[0,1448],"nice":false,"zero":false}},"y":{"field":"y","type":"quantitative","axis":null,"scale":{"domain":[820,0],"nice":false,"zero":false}},"fill":{"field":"k","type":"nominal","legend":null,"scale":{"domain":["dones","homes","pos","hosp","maneta"],"range":["#0a85ab","#0047ab","#ff0000","#ffa500","#ffffff"]}},"size":{"field":"m","type":"ordinal","legend":null,"scale":{"type":"ordinal","domain":["r12","r13"],"range":[576,676]}}}},
{"data":{"name":"barretes"},"mark":{"type":"rect","fill":"#aaaaaa"},"encoding":{"x":{"field":"x","type":"quantitative","axis":null,"scale":{"domain":[0,1448],"nice":false,"zero":false}},"x2":{"field":"x2"},"y":{"field":"y","type":"quantitative","axis":null,"scale":{"domain":[820,0],"nice":false,"zero":false}},"y2":{"field":"y2"}}},
{"data":{"name":"textos"},"encoding":{"text":{"field":"t"},"x":{"field":"x","type":"quantitative","axis":null,"scale":{"domain":[0,1448],"nice":false,"zero":false}},"y":{"field":"y","type":"quantitative","axis":null,"scale":{"domain":[820,0],"nice":false,"zero":false}},"color":{"field":"c","type":"nominal","legend":null,"scale":{"domain":["cian","taronja","verm","actius","verd","etq","blanc","groc","gris","text","hosp","uci","font"],"range":["#14b4f5","#ff9e0c","#e60000","#14a4ec","#3fe000","#b4b8bc","#ffffff","#ffff00","#a6a6a6","#e8e8e8","#e79a05","#d060c8","#0e90c8"]}},"size":{"field":"m","type":"ordinal","legend":null,"scale":{"type":"ordinal","domain":["t13","t13h","t14","t16","t17","t17h","t18","t18h","t19","t21","t22","t27"],"range":[13,13.5,14,16,17,17.5,18,18.6,19,21,22,27]}}},"layer":[
{"transform":[{"filter":"datum.al=='l'&&datum.w=='n'"}],"mark":{"type":"text","font":"Lato","align":"left","baseline":"alphabetic"}},
{"transform":[{"filter":"datum.al=='c'&&datum.w=='n'"}],"mark":{"type":"text","font":"Lato","align":"center","baseline":"alphabetic"}},
{"transform":[{"filter":"datum.al=='r'&&datum.w=='n'"}],"mark":{"type":"text","font":"Lato","align":"right","baseline":"alphabetic"}},
{"transform":[{"filter":"datum.al=='l'&&datum.w=='b'"}],"mark":{"type":"text","font":"Lato","fontWeight":"bold","align":"left","baseline":"alphabetic"}},
{"transform":[{"filter":"datum.al=='c'&&datum.w=='b'"}],"mark":{"type":"text","font":"Lato","fontWeight":"bold","align":"center","baseline":"alphabetic"}}
]},
{"data":{"name":"tapes"},"mark":{"type":"rect","strokeWidth":1},"encoding":{"x":{"field":"x","type":"quantitative","axis":null,"scale":{"domain":[0,1448],"nice":false,"zero":false}},"x2":{"field":"x2"},"y":{"field":"y","type":"quantitative","axis":null,"scale":{"domain":[820,0],"nice":false,"zero":false}},"y2":{"field":"y2"},"fill":{"field":"k","type":"nominal","legend":null,"scale":{"domain":["mascara","panell","actiu"],"range":["#000000","#222222","#222222"]}},"stroke":{"field":"k","type":"nominal","legend":null,"scale":{"domain":["mascara","panell","actiu"],"range":["#000000","#3b3b3b","#222222"]}}}},
{"data":{"name":"nav"},"mark":{"type":"text","font":"Lato","fontSize":19,"align":"center","baseline":"alphabetic","fill":"#8f9296"},"encoding":{"text":{"field":"t"},"x":{"field":"x","type":"quantitative","axis":null,"scale":{"domain":[0,1448],"nice":false,"zero":false}},"y":{"field":"y","type":"quantitative","axis":null,"scale":{"domain":[820,0],"nice":false,"zero":false}}}},
{"data":{"name":"fletxes"},"projection":{"type":"identity","scale":1,"translate":[0,0]},"mark":{"type":"geoshape","filled":false,"stroke":"#9a9a9a","strokeWidth":1.5},"encoding":{"shape":{"field":"geo","type":"geojson"}}},
{"data":{"name":"xevro"},"projection":{"type":"identity","scale":1,"translate":[0,0]},"mark":{"type":"geoshape","filled":false,"stroke":"#2b8ce0","strokeWidth":1.5},"encoding":{"shape":{"field":"geo","type":"geojson"}}}
]}
